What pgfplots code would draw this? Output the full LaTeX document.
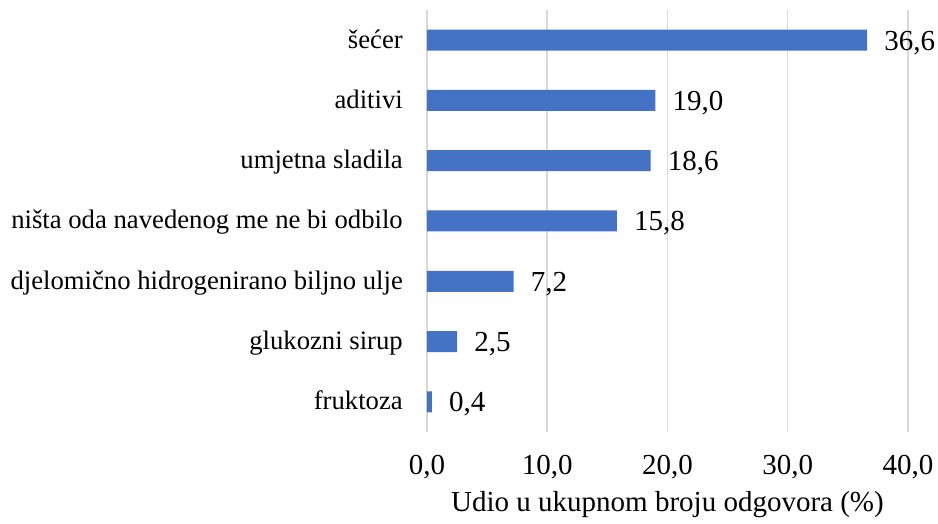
\documentclass[border=0pt]{standalone}
\usepackage{pgfplots}
\pgfplotsset{compat=1.18}
\usepackage{fontspec}
\setmainfont{Liberation Serif}
\definecolor{barblue}{RGB}{68,114,196}
\definecolor{gridgray}{RGB}{217,217,217}
\begin{document}
\begin{tikzpicture}
\begin{axis}[
  /pgf/number format/assume math mode=true,
  scale only axis,
  width=481pt, height=422pt,
  xmin=0, xmax=40,
  ymin=-0.5, ymax=6.5,
  xbar, bar width=21pt, bar shift=0pt,
  axis line style={draw=none},
  major tick length=0pt,
  xtick={0,10,20,30,40},
  xmajorgrids,
  major grid style={gridgray, line width=1.5pt},
  ytick={0,1,2,3,4,5,6},
  yticklabels={fruktoza, glukozni sirup, djelomično hidrogenirano biljno ulje, ništa oda navedenog me ne bi odbilo, umjetna sladila, aditivi, šećer},
  yticklabel style={font=\fontsize{26.7}{30}\selectfont, anchor=base east, inner sep=0pt, xshift=-24pt, yshift=-8pt},
  xticklabel style={font=\fontsize{29}{32}\selectfont, anchor=north, inner sep=0pt, yshift=-23pt,
    /pgf/number format/.cd, fixed, fixed zerofill, precision=1, use comma},
  xlabel={Udio u ukupnom broju odgovora (\%)},
  xlabel style={font=\fontsize{29}{32}\selectfont, at={(axis description cs:0.5,0)}, anchor=north, inner sep=0pt, yshift=-59pt},
  nodes near coords={\pgfmathprintnumber[fixed,fixed zerofill,precision=1,use comma]{\pgfplotspointmeta}},
  nodes near coords style={font=\fontsize{29}{32}\selectfont, anchor=base west, inner sep=0pt, xshift=17pt, yshift=-10pt, text=black},
  clip=false,
]
\addplot[fill=barblue, draw=none] coordinates {(0.4,0) (2.5,1) (7.2,2) (15.8,3) (18.6,4) (19.0,5) (36.6,6)};
\coordinate (sw) at (rel axis cs:0,0);
\end{axis}
\path ([shift={(-427pt,-92pt)}]sw) rectangle ([shift={(511pt,432pt)}]sw);
\end{tikzpicture}
\end{document}
